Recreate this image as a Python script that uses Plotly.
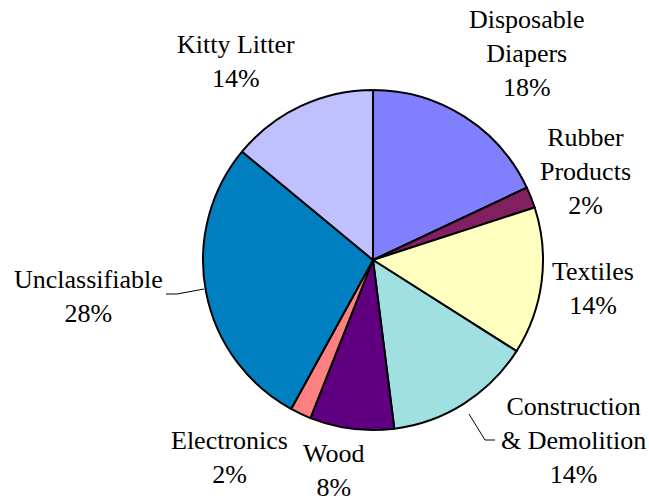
import plotly.graph_objects as go

# Waste composition shares (percent)
categories = ["Disposable<br>Diapers", "Rubber<br>Products", "Textiles",
              "Construction<br>& Demolition", "Wood", "Electronics",
              "Unclassifiable", "Kitty Litter"]
shares = [18, 2, 14, 14, 8, 2, 28, 14]
colors = ["#8080FF", "#802060", "#FFFFC0", "#A0E0E0",
          "#600080", "#FF8080", "#0080C0", "#C0C0FF"]

# Label anchor positions in pixels (x, y from top)
label_pos = [(527, 54), (585, 171), (593, 288), (573, 440),
             (333, 470), (229, 457), (88, 296), (236, 61)]

W, H = 649, 500
cx, cy, r = 373, 260, 170

fig = go.Figure(go.Pie(
    labels=[c.replace("<br>", " ") for c in categories],
    values=shares,
    sort=False,
    direction="clockwise",
    rotation=0,
    textinfo="none",
    hoverinfo="label+percent",
    marker=dict(colors=colors, line=dict(color="black", width=2)),
    domain=dict(x=[(cx - r) / W, (cx + r) / W],
                y=[(H - cy - r) / H, (H - cy + r) / H]),
    showlegend=False,
))

font = dict(family="Times New Roman, Liberation Serif, DejaVu Serif, serif",
            size=26, color="black")
for name, val, (px, py) in zip(categories, shares, label_pos):
    fig.add_annotation(
        x=px / W, y=1 - py / H, xref="paper", yref="paper",
        text=f"{name}<br>{val}%", showarrow=False,
        xanchor="center", yanchor="middle", align="center", font=font,
    )

# Leader lines for the two labels set away from their slices
leaders = [
    [(166, 294), (177, 294), (204, 289)],
    [(469, 414), (485, 440), (495, 440)],
]
for pts in leaders:
    for (x0, y0), (x1, y1) in zip(pts[:-1], pts[1:]):
        fig.add_shape(type="line", xref="paper", yref="paper",
                      x0=x0 / W, y0=1 - y0 / H, x1=x1 / W, y1=1 - y1 / H,
                      line=dict(color="black", width=1))

fig.update_layout(
    width=W, height=H,
    margin=dict(l=0, r=0, t=0, b=0),
    paper_bgcolor="white", plot_bgcolor="white",
    font=dict(family="Times New Roman, Liberation Serif, DejaVu Serif, serif"),
)

fig.write_html("out.html")
